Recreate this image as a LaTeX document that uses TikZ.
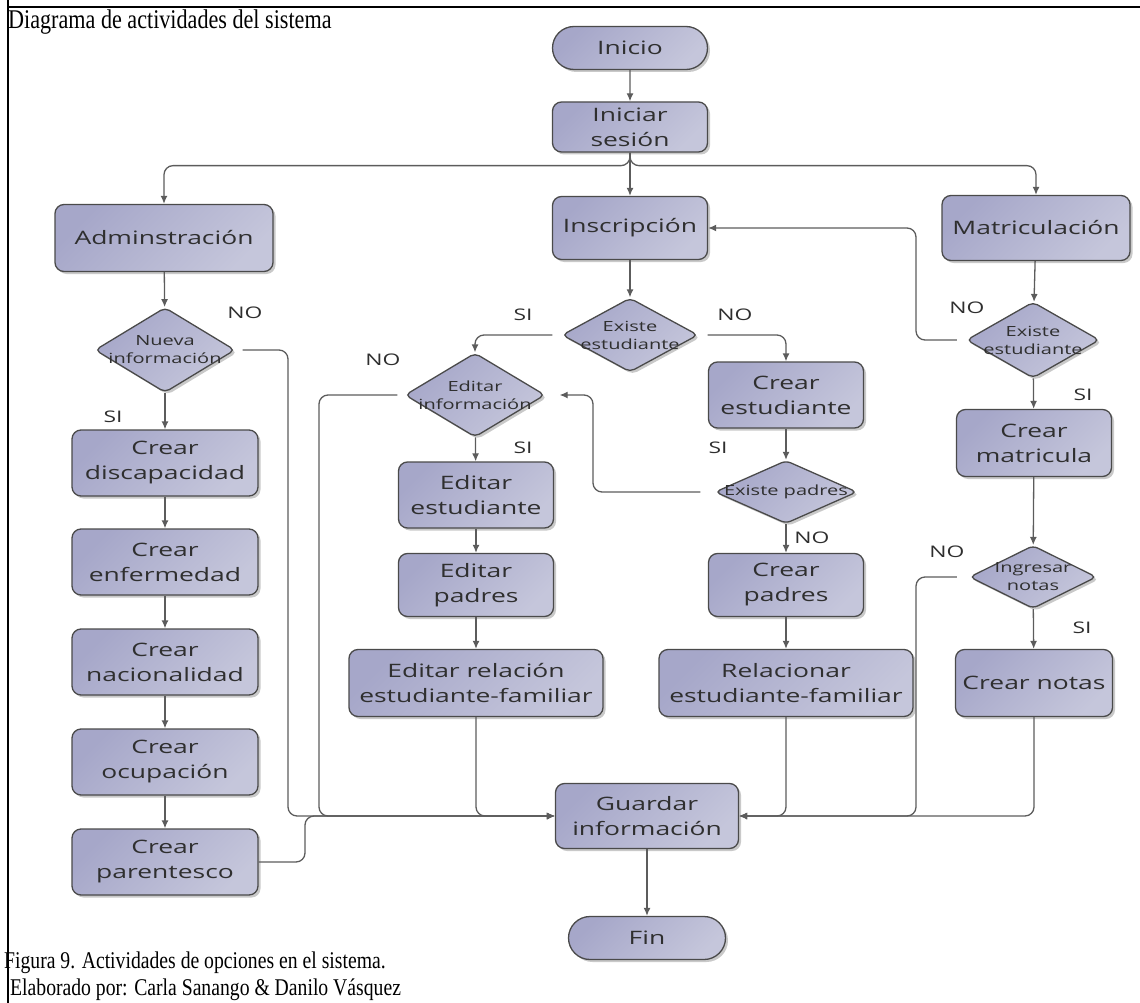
\documentclass[tikz,border=0pt]{standalone}
\usepackage{fontspec}
\setmainfont{Liberation Serif}
\newfontfamily\nf[FakeStretch=1.43]{Open Sans}
\newfontfamily\capfont[FakeStretch=0.82]{Liberation Serif}
\usetikzlibrary{shapes.geometric,shapes.misc,arrows.meta,shadows}
\definecolor{fillA}{HTML}{A6A7C9}
\definecolor{fillB}{HTML}{C5C6DB}
\definecolor{edge}{HTML}{4A4A4A}
\definecolor{wire}{HTML}{5C5C5C}
\definecolor{ink}{HTML}{2F2F2F}
\begin{document}
\begin{tikzpicture}[x=1pt,y=-1pt,
  shade/.style={draw=edge, line width=1.3pt, top color=fillA, bottom color=fillB, shading angle=45,
    drop shadow={shadow xshift=2.5pt, shadow yshift=-2.5pt, opacity=0.3, fill=black!70},
    text=ink, align=center, inner sep=0pt},
  proc/.style 2 args={rectangle, rounded corners=9pt, shade, minimum width=#1pt, minimum height=#2pt,
    font=\nf\fontsize{18.5}{25}\selectfont},
  term/.style 2 args={rounded rectangle, shade, minimum width=#1pt, minimum height=#2pt,
    font=\nf\fontsize{18.5}{25}\selectfont},
  dec/.style 2 args={diamond, rounded corners=5pt, shade, minimum width=#1pt, minimum height=#2pt},
  dtext/.style={text=ink, align=center, inner sep=0pt, font=\nf\fontsize{14}{18}\selectfont},
  conn/.style={draw=wire, line width=1.3pt, rounded corners=9pt},
  arr/.style={conn, -{Latex[length=8pt,width=7pt]}},
  lab/.style={font=\nf\fontsize{16}{16}\selectfont, text=ink, inner sep=0pt},
  frame/.style={draw=black, line width=1.5pt}]
\useasboundingbox (0,0) rectangle (1140,1003);

% page frame
\draw[frame] (8,0) -- (8,1003);
\draw[frame] (8,7) -- (1140,7);

% headings
\node[anchor=base west, inner sep=0pt, font=\capfont\fontsize{27}{28}\selectfont] (title) at (8,29) {Diagrama de actividades del sistema};
\node[anchor=base west, inner sep=0pt, font=\capfont\fontsize{24}{28}\selectfont] (cap1) at (4,968) {Figura 9. Actividades de opciones en el sistema.};
\node[anchor=base west, inner sep=0pt, font=\capfont\fontsize{24}{28}\selectfont] (cap2) at (10,995) {Elaborado por: Carla Sanango \& Danilo Vásquez};

% main column
\node[term={155}{43}] (ini) at (630,48) {Inicio};
\node[proc={155}{50}] (ses) at (630,127) {Iniciar\\sesión};
\node[proc={218}{67}] (adm) at (164,238) {Adminstración};
\node[proc={155}{63}] (ins) at (630,228) {Inscripción};
\node[proc={188}{65}] (mat) at (1036,228) {Matriculación};

% administration branch
\node[dec={140}{85}] (nue) at (165,350) {};
\node[dtext] (nueT) at (nue) {Nueva\\información};
\node[proc={186}{66}] (dis) at (165,463) {Crear\\discapacidad};
\node[proc={186}{66}] (enf) at (165,562) {Crear\\enfermedad};
\node[proc={186}{66}] (nac) at (165,662) {Crear\\nacionalidad};
\node[proc={186}{66}] (ocu) at (165,762) {Crear\\ocupación};
\node[proc={186}{66}] (par) at (165,862) {Crear\\parentesco};

% enrolment branch
\node[dec={136}{74}] (ee1) at (630,335) {};
\node[dtext] (ee1T) at (ee1) {Existe\\estudiante};
\node[dec={140}{84}] (edi) at (475,395) {};
\node[dtext] (ediT) at (edi) {Editar\\información};
\node[proc={155}{66}] (eest) at (476,495) {Editar\\estudiante};
\node[proc={155}{63}] (epad) at (476,585) {Editar\\padres};
\node[proc={254}{67}] (erel) at (476,683) {Editar relación\\estudiante-familiar};
\node[proc={155}{66}] (cre) at (786,395) {Crear\\estudiante};
\node[dec={142}{63}] (ep) at (786,492) {};
\node[dtext] (epT) at (ep) {Existe padres};
\node[proc={155}{63}] (cpad) at (786,585) {Crear\\padres};
\node[proc={254}{67}] (rel) at (786,683) {Relacionar\\estudiante-familiar};

% registration branch
\node[dec={133}{76}] (ee2) at (1033,340) {};
\node[dtext] (ee2T) at (ee2) {Existe\\estudiante};
\node[proc={155}{67}] (cmat) at (1034,443) {Crear\\matricula};
\node[dec={127}{63}] (ing) at (1033,577) {};
\node[dtext] (ingT) at (ing) {Ingresar\\notas};
\node[proc={157}{67}] (cnot) at (1034,683) {Crear notas};

% end
\node[proc={183}{65}] (gua) at (647,816) {Guardar\\información};
\node[term={157}{43}] (fin) at (647,938) {Fin};

% straight flow
\draw[arr] (ini) -- (ses);
\draw[arr] (ses) -- (ins);
\draw[arr] (ses.south) -- ++(0,13) -| (adm.north);
\draw[arr] (ses.south) -- ++(0,13) -| (mat.north);
\draw[arr] (adm) -- (nue);
\draw[arr] (nue) -- (dis);
\draw[arr] (dis) -- (enf);
\draw[arr] (enf) -- (nac);
\draw[arr] (nac) -- (ocu);
\draw[arr] (ocu) -- (par);
\draw[arr] (ins) -- (ee1);
\draw[arr] (edi) -- (eest);
\draw[arr] (eest) -- (epad);
\draw[arr] (epad) -- (erel);
\draw[arr] (cre) -- (ep);
\draw[arr] (ep) -- (cpad);
\draw[arr] (cpad) -- (rel);
\draw[arr] (mat) -- (ee2);
\draw[arr] (ee2) -- (cmat);
\draw[arr] (cmat) -- (ing);
\draw[arr] (ing) -- (cnot);
\draw[arr] (gua) -- (fin);

% decisions
\draw[arr, shorten <=9pt] (ee1.west) -| (edi.north);
\draw[arr, shorten <=9pt] (ee1.east) -| (cre.north);
\draw[arr, shorten <=14pt, shorten >=14pt] (ep.west) -| (593,395) -- (edi.east);
\draw[arr, shorten <=9pt] (ee2.west) -| (916,228) -- (ins.east);

% merges into the save step
\draw[arr, shorten <=7pt] (nue.east) -| (288,816) -- (gua.west);
\draw[arr, shorten <=7pt] (edi.west) -| (319,816) -- (gua.west);
\draw[arr] (par.east) -| (305,816) -- (gua.west);
\draw[arr] (erel.south) |- (gua.west);
\draw[arr] (rel.south) |- (gua.east);
\draw[arr, shorten <=12pt] (ing.west) -| (916,816) -- (gua.east);
\draw[arr] (cnot.south) |- (gua.east);

% branch labels
\node[lab] (l1) at (245,313) {NO};
\node[lab] (l2) at (113,417) {SI};
\node[lab] (l3) at (523,315) {SI};
\node[lab] (l4) at (735,315) {NO};
\node[lab] (l5) at (383,360) {NO};
\node[lab] (l6) at (523,448) {SI};
\node[lab] (l7) at (718,448) {SI};
\node[lab] (l8) at (812,538) {NO};
\node[lab] (l9) at (967,308) {NO};
\node[lab] (l10) at (1083,395) {SI};
\node[lab] (l11) at (947,552) {NO};
\node[lab] (l12) at (1082,628) {SI};
\end{tikzpicture}
\end{document}
